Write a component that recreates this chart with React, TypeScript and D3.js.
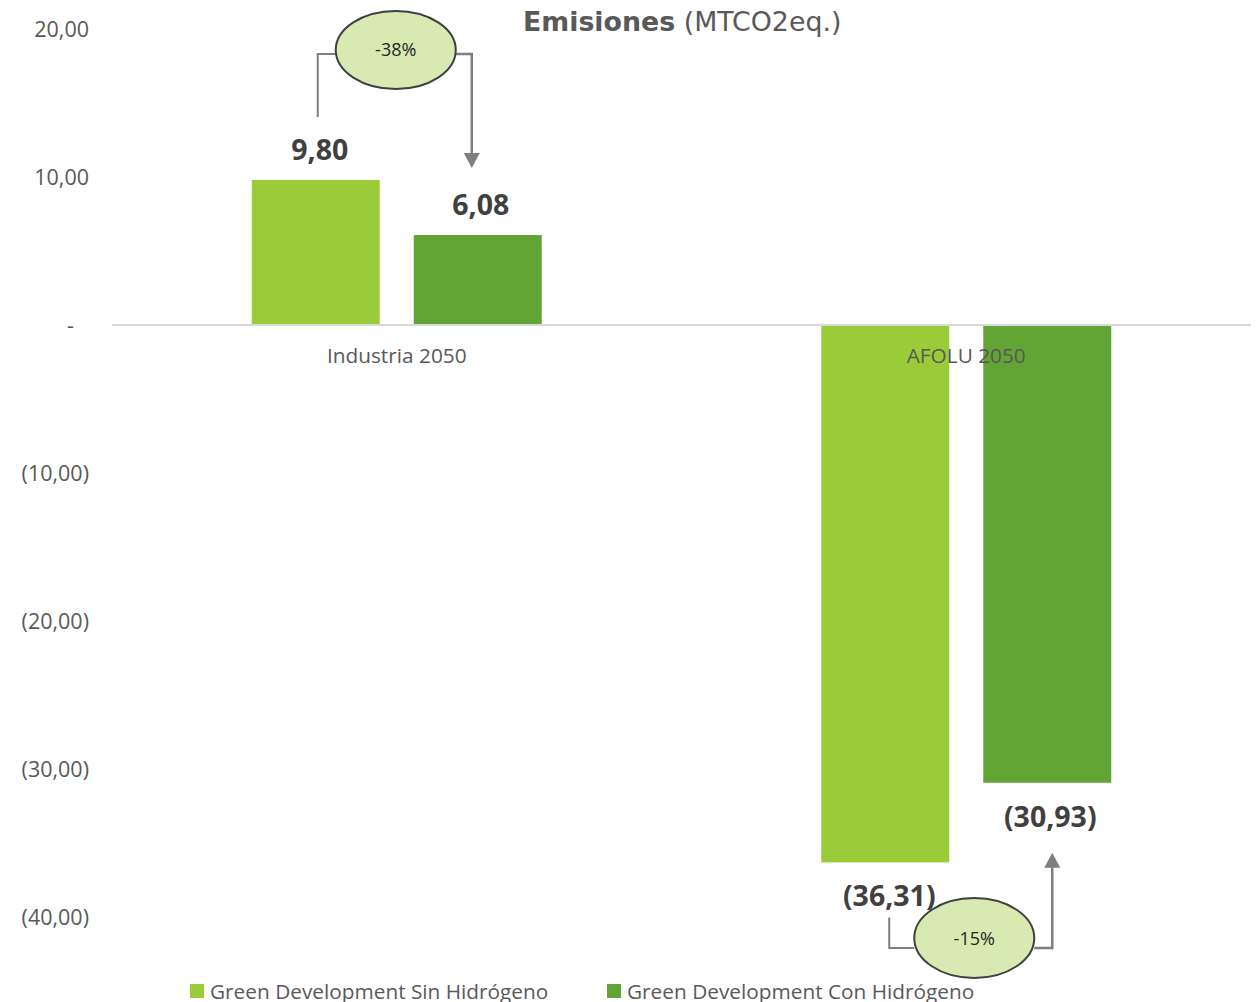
import React from "react";
import * as d3 from "d3";

const categories = ["Industria 2050", "AFOLU 2050"];
const seriesNames = ["Green Development Sin Hidrógeno", "Green Development Con Hidrógeno"];
const sinValues = [9.8, -36.31];
const conValues = [6.08, -30.93];
const yTicks = [20, 10, 0, -10, -20, -30, -40];
const changeLabels = ["-38%", "-15%"];
const colors = ["#9ACB38", "#62A534"];

const W = 1258;
const H = 1002;
const fmt = (v: number) => {
  if (v === 0) return "-";
  const s = Math.abs(v).toFixed(2).replace(".", ",");
  return v < 0 ? `(${s})` : s;
};

export default function App() {
  const y = d3.scaleLinear().domain([20, -40]).range([29, 917]);
  const x0 = d3.scaleBand<string>().domain(categories).range([112, 1251]).paddingInner(0).paddingOuter(0);
  const x1 = d3.scaleBand<string>().domain(["sin", "con"]).range([0, 290]).paddingInner(0.21);
  const groupOffset = (x0.bandwidth() - 290) / 2;
  const barX = (ci: number, s: string) => (x0(categories[ci]) as number) + groupOffset + (x1(s) as number);
  const bw = x1.bandwidth();
  const font = "'Open Sans', sans-serif";
  const textColor = "#595959";
  const arrowColor = "#7F7F7F";

  const data = categories.map((c, i) => ({ c, i, sin: sinValues[i], con: conValues[i] }));

  const ind = data[0];
  const afo = data[1];
  const indSinCx = barX(0, "sin") + bw / 2;
  const indConCx = barX(0, "con") + bw / 2;
  const afoSinCx = barX(1, "sin") + bw / 2;
  const afoConCx = barX(1, "con") + bw / 2;
  const e1 = { cx: (indSinCx + indConCx) / 2 - 1, cy: 50, rx: 60, ry: 39 };
  const e2 = { cx: (afoSinCx + afoConCx) / 2 + 8, cy: 938, rx: 60, ry: 40 };
  const lx1 = indSinCx + 2;
  const rx1 = indConCx - 6;
  const lx2 = afoSinCx + 4;
  const rx2 = afoConCx + 5;
  const tip1 = y(ind.con) - 67;
  const tip2 = y(afo.con) + 70;
  const ahL = 15;
  const ahW = 8;

  return (
    <svg width={W} height={H} style={{ display: "block", position: "absolute", left: 0, top: 0 }}>
      <rect width={W} height={H} fill="#fff" />
      <text x={523} y={31} fontFamily="'DejaVu Sans', Verdana, sans-serif" fontSize={26.8} fill={textColor}>
        <tspan fontWeight="bold">Emisiones</tspan>
        <tspan> (MTCO2eq.)</tspan>
      </text>
      {yTicks.map((t) => (
        <text
          key={t}
          x={t === 0 ? 74 : 89}
          y={y(t) + 8}
          textAnchor="end"
          fontFamily={font}
          fontSize={21.5}
          fill={textColor}
        >
          {fmt(t)}
        </text>
      ))}
      {data.map((d) => (
        <g key={d.c}>
          <rect x={barX(d.i, "sin")} width={bw} y={Math.min(y(d.sin), y(0))} height={Math.abs(y(d.sin) - y(0))} fill={colors[0]} />
          <rect x={barX(d.i, "con")} width={bw} y={Math.min(y(d.con), y(0))} height={Math.abs(y(d.con) - y(0))} fill={colors[1]} />
        </g>
      ))}
      <line x1={112} x2={1251} y1={y(0)} y2={y(0)} stroke="#D9D9D9" strokeWidth={2} />
      {data.map((d) => (
        <text key={d.c} x={(x0(d.c) as number) + x0.bandwidth() / 2} y={y(0) + 38} textAnchor="middle" fontFamily={font} fontSize={20.8} fill={textColor}>
          {d.c}
        </text>
      ))}
      {data.map((d) => (
        <g key={"l" + d.c} fontFamily={font} fontSize={28.5} fontWeight="bold" fill="#404040" textAnchor="middle">
          <text x={barX(d.i, "sin") + bw / 2 + 4} y={d.sin >= 0 ? y(d.sin) - 20 : y(d.sin) + 44}>{fmt(d.sin)}</text>
          <text x={barX(d.i, "con") + bw / 2 + 3} y={d.con >= 0 ? y(d.con) - 20 : y(d.con) + 44}>{fmt(d.con)}</text>
        </g>
      ))}
      {/* connectors */}
      <path d={`M${lx1},${y(ind.sin) - 63} V54 H${e1.cx - e1.rx}`} fill="none" stroke={arrowColor} strokeWidth={2} />
      <path d={`M${e1.cx + e1.rx},54 H${rx1} V${tip1 - ahL + 1}`} fill="none" stroke={arrowColor} strokeWidth={2.5} />
      <path d={`M${rx1 - ahW},${tip1 - ahL} L${rx1 + ahW},${tip1 - ahL} L${rx1},${tip1} Z`} fill={arrowColor} />
      <ellipse cx={e1.cx} cy={e1.cy} rx={e1.rx} ry={e1.ry} fill="#D8EAB1" stroke="#404040" strokeWidth={2} />
      <text x={e1.cx} y={e1.cy + 6} textAnchor="middle" fontFamily={font} fontSize={18} fill="#262626">{changeLabels[0]}</text>

      <path d={`M${lx2},${y(afo.sin) + 55} V948 H${e2.cx - e2.rx}`} fill="none" stroke={arrowColor} strokeWidth={2} />
      <path d={`M${e2.cx + e2.rx},948 H${rx2} V${tip2 + ahL - 1}`} fill="none" stroke={arrowColor} strokeWidth={2.5} />
      <path d={`M${rx2 - ahW},${tip2 + ahL} L${rx2 + ahW},${tip2 + ahL} L${rx2},${tip2} Z`} fill={arrowColor} />
      <ellipse cx={e2.cx} cy={e2.cy} rx={e2.rx} ry={e2.ry} fill="#D8EAB1" stroke="#404040" strokeWidth={2} />
      <text x={e2.cx} y={e2.cy + 7} textAnchor="middle" fontFamily={font} fontSize={18} fill="#262626">{changeLabels[1]}</text>

      {/* legend */}
      {seriesNames.map((s, i) => (
        <g key={s} transform={`translate(${i === 0 ? 190 : 607},0)`}>
          <rect x={0} y={984} width={14} height={14} fill={colors[i]} />
          <text x={20} y={999} fontFamily={font} fontSize={20.8} fill={textColor}>{s}</text>
        </g>
      ))}
    </svg>
  );
}
